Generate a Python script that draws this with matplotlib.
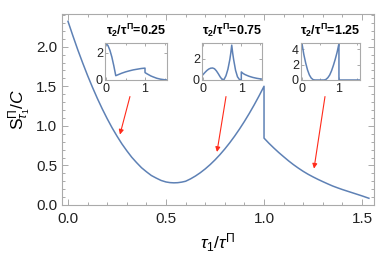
import numpy as np
import matplotlib.pyplot as plt
from matplotlib.ticker import MultipleLocator

plt.rcParams['font.family'] = 'Liberation Sans'
plt.rcParams['mathtext.fontset'] = 'custom'
plt.rcParams['mathtext.rm'] = 'Liberation Sans'
plt.rcParams['mathtext.it'] = 'Liberation Sans:italic'
plt.rcParams['mathtext.bf'] = 'Liberation Sans:bold'

# main curve
main_x = [0.0, 0.025, 0.05, 0.075, 0.1, 0.125, 0.15, 0.175, 0.2, 0.225, 0.25, 0.275,
          0.3, 0.325, 0.35, 0.375, 0.4, 0.425, 0.45, 0.475, 0.5, 0.52, 0.54, 0.56,
          0.58, 0.6, 0.625, 0.65, 0.675, 0.7, 0.725, 0.75, 0.775, 0.8, 0.825, 0.85,
          0.875, 0.9, 0.925, 0.95, 0.975, 1.0,
          1.0, 1.025, 1.05, 1.075, 1.1, 1.125, 1.15, 1.175, 1.2, 1.225, 1.25, 1.275,
          1.3, 1.325, 1.35, 1.375, 1.4, 1.425, 1.45, 1.475, 1.5, 1.535]
main_y = [2.32, 2.137, 1.96, 1.794, 1.635, 1.486, 1.345, 1.213, 1.09, 0.975, 0.87, 0.772,
          0.685, 0.604, 0.535, 0.471, 0.42, 0.373, 0.34, 0.31, 0.291, 0.283, 0.28, 0.282,
          0.289, 0.30, 0.33, 0.366, 0.408, 0.456, 0.51, 0.57, 0.636, 0.708, 0.786, 0.87,
          0.96, 1.056, 1.158, 1.266, 1.38, 1.50,
          0.845, 0.78, 0.72, 0.663, 0.61, 0.558, 0.51, 0.466, 0.425, 0.388, 0.355, 0.324,
          0.295, 0.267, 0.24, 0.217, 0.195, 0.175, 0.155, 0.135, 0.115, 0.085]

# insets
in1_x = [0.0, 0.05, 0.1, 0.15, 0.2, 0.25, 0.3, 0.4, 0.5, 0.6, 0.7, 0.8, 0.9, 1.0,
         1.0, 1.05, 1.1, 1.15, 1.2, 1.3, 1.4, 1.5, 1.57]
in1_y = [2.7, 2.55, 2.2, 1.7, 1.05, 0.32, 0.38, 0.5, 0.6, 0.68, 0.75, 0.8, 0.85, 0.88,
         0.55, 0.46, 0.38, 0.3, 0.24, 0.13, 0.06, 0.02, 0.0]

in2_x = [0.0, 0.05, 0.1, 0.15, 0.2, 0.25, 0.3, 0.35, 0.4, 0.45, 0.5, 0.55, 0.6, 0.65,
         0.7, 0.725, 0.75, 0.775, 0.8, 0.85, 0.9, 0.95, 1.0,
         1.0, 1.05, 1.1, 1.2, 1.3, 1.4, 1.5, 1.55]
in2_y = [0.5, 0.7, 0.88, 1.02, 1.1, 1.12, 1.05, 0.85, 0.58, 0.28, 0.05, 0.05, 0.4, 1.0,
         1.9, 2.5, 3.25, 2.5, 1.9, 0.9, 0.3, 0.05, 0.0,
         0.75, 0.6, 0.5, 0.35, 0.24, 0.16, 0.1, 0.08]

in3_x = [0.0, 0.05, 0.1, 0.15, 0.2, 0.25, 0.3, 0.35, 0.6, 0.65, 0.7, 0.75, 0.8,
         0.85, 0.9, 0.95, 1.0, 1.0, 1.57]
in3_y = [4.7, 3.3, 2.2, 1.3, 0.65, 0.25, 0.05, 0.0, 0.0, 0.08, 0.3, 0.65, 1.2,
         1.9, 2.7, 3.6, 4.7, 0.0, 0.0]

inset_titles = ['0.25', '0.75', '1.25']
inset_ylims = [2.74, 3.45, 4.8]
inset_yticks = [[0, 2], [0, 2], [0, 2, 4]]

# arrows: (start x, start y, end x, end y)
arrow_start_x = [0.316, 0.806, 1.311]
arrow_start_y = [1.37, 1.37, 1.37]
arrow_end_x = [0.265, 0.760, 1.255]
arrow_end_y = [0.89, 0.67, 0.46]

blue = '#5e81b5'
frame = '#aaaaaa'
W, H = 382, 270


def style_frame(ax, major=4, minor=2, size=11, padx=5, pady=3.5):
    for s in ax.spines.values():
        s.set_color(frame)
        s.set_linewidth(0.8)
    ax.tick_params(which='both', direction='in', top=True, right=True,
                   color=frame, width=0.7, labelsize=size, labelcolor='#222222')
    ax.tick_params(which='major', length=major)
    ax.tick_params(which='minor', length=minor)
    ax.tick_params(axis='x', pad=padx)
    ax.tick_params(axis='y', pad=pady)


fig = plt.figure(figsize=(W / 100, H / 100), dpi=100)

ax = fig.add_axes([62 / W, 1 - 205 / H, 312 / W, 191 / H])
ax.plot(main_x, main_y, color=blue, lw=1.1)
ax.set_xlim(-0.0306, 1.561)
ax.set_ylim(0, 2.413)
ax.xaxis.set_major_locator(MultipleLocator(0.5))
ax.xaxis.set_minor_locator(MultipleLocator(0.1))
ax.yaxis.set_major_locator(MultipleLocator(0.5))
ax.yaxis.set_minor_locator(MultipleLocator(0.1))
ax.xaxis.set_major_formatter(lambda v, p: f'{v:.1f}')
ax.yaxis.set_major_formatter(lambda v, p: f'{v:.1f}')
style_frame(ax)
ax.set_xlabel(r'$\tau_1/\tau^{\Pi}$', fontsize=12.5, labelpad=4)
ax.set_ylabel(r'$\mathrm{S}^{\Pi}_{\tau_1}/C$', fontsize=12.5, labelpad=2)

for i in range(3):
    ax.annotate('', xy=(arrow_end_x[i], arrow_end_y[i]),
                xytext=(arrow_start_x[i], arrow_start_y[i]),
                arrowprops=dict(arrowstyle='-|>', color='#ff2a1a', lw=0.8,
                                mutation_scale=7, shrinkA=0, shrinkB=0))

inset_px = [(105, 167), (202, 262), (301, 360)]
inset_xlims = [(-0.026, 1.564), (-0.026, 1.54), (-0.027, 1.57)]
inset_data = [(in1_x, in1_y), (in2_x, in2_y), (in3_x, in3_y)]
for i in range(3):
    x0, x1 = inset_px[i]
    iax = fig.add_axes([x0 / W, 1 - 80 / H, (x1 - x0) / W, 37 / H])
    iax.plot(inset_data[i][0], inset_data[i][1], color=blue, lw=1.1)
    iax.set_xlim(*inset_xlims[i])
    iax.set_ylim(0, inset_ylims[i])
    iax.set_xticks([0, 1])
    iax.set_xticks([0.5, 1.5], minor=True)
    iax.set_yticks(inset_yticks[i])
    style_frame(iax, major=2.5, minor=1.5, size=9, padx=2, pady=1.5)
    iax.set_title(r'$\mathbf{\tau_2/\tau^{\Pi}}$=' + inset_titles[i],
                  fontsize=9, fontweight='bold', pad=6)

fig.savefig('out.png', dpi=100)
